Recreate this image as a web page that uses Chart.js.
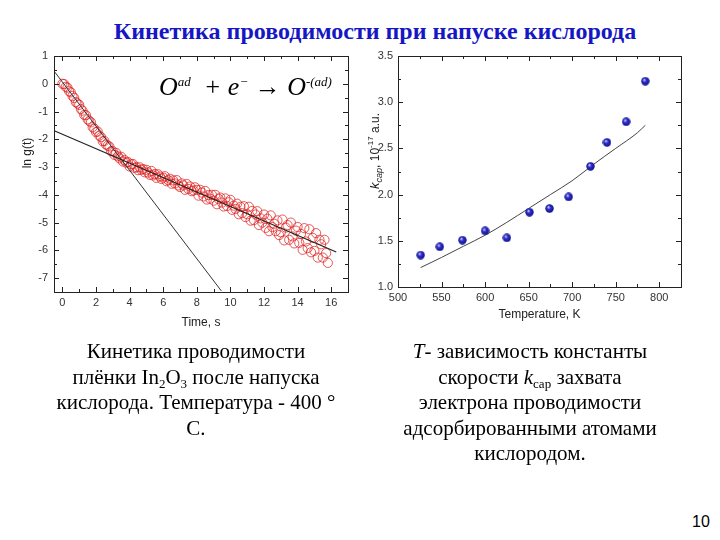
<!DOCTYPE html>
<html>
<head>
<meta charset="utf-8">
<script src="https://cdn.jsdelivr.net/npm/chart.js@4.4.1/dist/chart.umd.min.js"></script>
<style>
  body { margin: 0; background: #fff; }
  #page { position: relative; width: 720px; height: 540px; overflow: hidden; background: #fff; }
  #title { position: absolute; left: 0; top: 18px; width: 750px; text-align: center;
           font: bold 24px "Liberation Serif", "Times New Roman", serif; color: #1616c4; }
  .box { position: absolute; width: 360px; height: 300px; top: 40px; }
  #formula { position: absolute; left: 159px; top: 72px; font: italic 26px "Liberation Serif", serif; color: #000; white-space: nowrap; }
  #formula sup { font-size: 13px; vertical-align: 9px; }
  .cap { position: absolute; top: 339px; font: 21px/25.5px "Liberation Serif", "Times New Roman", serif; color: #000; text-align: center; }
  .cap sub { font-size: 13px; vertical-align: -4px; line-height: 0; }
  #pageno { position: absolute; left: 692px; top: 513px; font: 16px "Liberation Sans", Arial, sans-serif; }
</style>
</head>
<body>
<div id="page">
  <div id="title">Кинетика проводимости при напуске кислорода</div>
  <div class="box" style="left:0"><canvas id="kinChart" width="360" height="300"></canvas></div>
  <div class="box" style="left:360px"><canvas id="tempChart" width="360" height="300"></canvas></div>
  <div id="formula">O<sup>ad</sup>&nbsp; + e<sup>&minus;</sup> &rarr; O<sup>-(ad)</sup></div>
  <div class="cap" style="left:36px; width:320px">Кинетика проводимости<br>плёнки In<sub>2</sub>O<sub>3</sub> после напуска<br>кислорода. Температура - 400 °<br>С.</div>
  <div class="cap" style="left:370px; width:320px"><i>T</i>- зависимость константы<br>скорости <i>k</i><sub>cap</sub> захвата<br>электрона проводимости<br>адсорбированными атомами<br>кислородом.</div>
  <div id="pageno">10</div>
</div>
<script>
// --- данные: кинетика ln g(t), шаг 0.1 с ---
const timeStart = 0;
const timeStep = 0.1;
const lnG = [
  0.00, -0.01, -0.11, -0.14, -0.27, -0.31, -0.44, -0.51, -0.66, -0.71,
  -0.76, -0.91, -0.97, -1.12, -1.13, -1.28, -1.34, -1.39, -1.56, -1.62,
  -1.74, -1.72, -1.87, -1.92, -2.07, -2.06, -2.19, -2.23, -2.26, -2.43,
  -2.43, -2.56, -2.49, -2.61, -2.69, -2.63, -2.80, -2.75, -2.84, -2.82,
  -2.98, -2.90, -2.89, -3.03, -3.00, -3.11, -3.01, -3.10, -3.07, -3.19,
  -3.10, -3.20, -3.28, -3.14, -3.30, -3.25, -3.39, -3.26, -3.34, -3.43,
  -3.38, -3.33, -3.51, -3.47, -3.42, -3.60, -3.48, -3.59, -3.47, -3.66,
  -3.72, -3.59, -3.66, -3.82, -3.61, -3.79, -3.70, -3.87, -3.84, -3.73,
  -3.82, -4.03, -3.82, -3.92, -4.06, -3.86, -4.17, -4.01, -4.14, -4.00,
  -4.21, -4.00, -4.34, -4.15, -4.10, -4.28, -4.42, -4.13, -4.40, -4.27,
  -4.18, -4.54, -4.39, -4.51, -4.32, -4.70, -4.43, -4.66, -4.41, -4.80,
  -4.70, -4.43, -4.93, -4.58, -4.91, -4.71, -4.59, -5.09, -4.85, -5.00,
  -4.71, -5.19, -4.86, -5.31, -4.74, -5.16, -5.04, -5.31, -4.92, -5.45,
  -5.35, -4.89, -5.64, -5.18, -5.09, -5.62, -5.00, -5.50, -5.75, -5.29,
  -5.16, -5.73, -5.41, -5.98, -5.20, -5.68, -5.92, -5.24, -6.07, -5.55,
  -6.02, -5.38, -6.26, -5.62, -5.78, -6.26, -5.62, -6.10, -6.45
];
// две экспоненты (прямые в координатах ln g)
const fastLine = [{ x: -0.45, y: 0.42 }, { x: 9.46, y: -7.46 }];
const slowLine = [{ x: -0.45, y: -1.70 }, { x: 16.3, y: -6.06 }];

// --- данные: k_cap(T) ---
const temperatures = [526, 548, 574, 600, 625, 651, 674, 696, 721, 740, 762, 784];
const kcap = [1.345, 1.435, 1.507, 1.608, 1.532, 1.809, 1.849, 1.975, 2.306, 2.565, 2.788, 3.227];
const fitT = [526, 550, 575, 600, 625, 650, 675, 700, 725, 750, 775, 784];
const fitK = [1.21, 1.32, 1.44, 1.56, 1.70, 1.85, 2.00, 2.15, 2.33, 2.50, 2.67, 2.75];

const tickFont = { family: '"Liberation Sans", Arial, sans-serif', size: 11 };
const tickColor = '#333';

// рамка вокруг графика + внутренние засечки на всех сторонах + подпись оси Y
const frameTicks = {
  id: 'frameTicks',
  afterDraw(chart, args, opts) {
    const { ctx, chartArea: a, scales } = chart;
    ctx.save();
    ctx.strokeStyle = '#222';
    ctx.lineWidth = 1;
    ctx.strokeRect(Math.round(a.left) + 0.5, Math.round(a.top) + 0.5,
      Math.round(a.right - a.left), Math.round(a.bottom - a.top));
    const xs = scales.x, ys = scales.y;
    ctx.beginPath();
    for (let v = opts.xFrom; v <= xs.max + 1e-9; v += opts.xMinor) {
      const px = Math.round(xs.getPixelForValue(v)) + 0.5;
      if (px < a.left || px > a.right) continue;
      const major = Math.abs(v / opts.xMajor - Math.round(v / opts.xMajor)) < 1e-6;
      const len = major ? 5 : 3;
      ctx.moveTo(px, a.bottom); ctx.lineTo(px, a.bottom - len);
      ctx.moveTo(px, a.top); ctx.lineTo(px, a.top + len);
    }
    for (let v = opts.yFrom; v <= ys.max + 1e-9; v += opts.yMinor) {
      const py = Math.round(ys.getPixelForValue(v)) + 0.5;
      if (py < a.top - 0.5 || py > a.bottom + 0.5) continue;
      const major = Math.abs(v / opts.yMajor - Math.round(v / opts.yMajor)) < 1e-6;
      const len = major ? 5 : 3;
      ctx.moveTo(a.left, py); ctx.lineTo(a.left + len, py);
      ctx.moveTo(a.right, py); ctx.lineTo(a.right - len, py);
    }
    ctx.stroke();

    // подпись оси Y (повёрнутая, из кусочков)
    ctx.translate(opts.titleX, opts.titleY);
    ctx.rotate(-Math.PI / 2);
    ctx.fillStyle = '#222';
    ctx.textBaseline = 'alphabetic';
    let total = 0;
    opts.title.forEach(p => { ctx.font = p.font; total += ctx.measureText(p.text).width; });
    let x = -total / 2;
    opts.title.forEach(p => {
      ctx.font = p.font;
      ctx.fillText(p.text, x, 5 + (p.dy || 0));
      x += ctx.measureText(p.text).width;
    });
    ctx.restore();
  }
};

function axis(min, max, step, fmt) {
  return {
    type: 'linear', min, max,
    grid: { display: false, drawTicks: false },
    border: { display: false },
    ticks: { stepSize: step, color: tickColor, font: tickFont, padding: 5, callback: fmt }
  };
}

// --- левый график ---
const kinPoints = lnG.map((y, i) => ({ x: timeStart + i * timeStep, y }));

const xKin = axis(-0.5, 17, 2, v => v);
xKin.afterBuildTicks = s => { s.ticks = [0, 2, 4, 6, 8, 10, 12, 14, 16].map(v => ({ value: v })); };
xKin.afterFit = s => { s.height = 42; };
xKin.ticks.padding = 4;
xKin.title = { display: true, text: 'Time, s', color: '#222', font: { family: tickFont.family, size: 12 }, padding: { top: 2 } };
const yKin = axis(-7.5, 1, 1, v => v);
yKin.afterBuildTicks = s => { s.ticks = [-7, -6, -5, -4, -3, -2, -1, 0, 1].map(v => ({ value: v })); };
yKin.afterFit = s => { s.width = 36; };
yKin.ticks.padding = 6;

new Chart(document.getElementById('kinChart'), {
  type: 'scatter',
  data: {
    datasets: [
      { data: kinPoints, pointRadius: 4.6, pointBorderWidth: 1, borderColor: 'rgba(222,28,28,0.72)',
        backgroundColor: 'rgba(255,255,255,0)', order: 2 },
      { type: 'line', data: fastLine, borderColor: '#333', borderWidth: 1, pointRadius: 0, order: 1 },
      { type: 'line', data: slowLine, borderColor: '#222', borderWidth: 1.2, pointRadius: 0, order: 0 }
    ]
  },
  options: {
    responsive: false, animation: false,
    layout: { padding: { left: 18, top: 16, right: 12, bottom: 6 } },
    plugins: {
      legend: { display: false }, tooltip: { enabled: false },
      frameTicks: { xFrom: 0, xMinor: 1, xMajor: 2, yFrom: -7.5, yMinor: 0.5, yMajor: 1,
        titleX: 26, titleY: 113,
        title: [{ text: 'ln g(t)', font: '12px "Liberation Sans", Arial, sans-serif' }] }
    },
    scales: { x: xKin, y: yKin }
  },
  plugins: [frameTicks]
});

// --- правый график ---
const sphere = document.createElement('canvas');
sphere.width = 9; sphere.height = 9;
const sc = sphere.getContext('2d');
const grad = sc.createRadialGradient(3.3, 3, 0.3, 4.5, 4.5, 4.5);
grad.addColorStop(0, '#d0d0ff');
grad.addColorStop(0.35, '#3232d2');
grad.addColorStop(1, '#0a0a80');
sc.fillStyle = grad;
sc.beginPath(); sc.arc(4.5, 4.5, 4.2, 0, Math.PI * 2); sc.fill();

const xTemp = axis(500, 825, 50, v => v);
xTemp.afterBuildTicks = s => { s.ticks = [500, 550, 600, 650, 700, 750, 800].map(v => ({ value: v })); };
xTemp.afterFit = s => { s.height = 39; };
xTemp.ticks.padding = 4;
xTemp.title = { display: true, text: 'Temperature, K', color: '#222', font: { family: tickFont.family, size: 12 }, padding: { top: 2 } };
const yTemp = axis(1.0, 3.5, 0.5, v => v.toFixed(1));
yTemp.afterFit = s => { s.width = 34; };

new Chart(document.getElementById('tempChart'), {
  type: 'scatter',
  data: {
    datasets: [
      { data: temperatures.map((t, i) => ({ x: t, y: kcap[i] })), pointStyle: sphere, pointRadius: 4.5, order: 0 },
      { type: 'line', data: fitT.map((t, i) => ({ x: t, y: fitK[i] })), borderColor: '#444', borderWidth: 1,
        pointRadius: 0, tension: 0.4, cubicInterpolationMode: 'monotone', order: 1 }
    ]
  },
  options: {
    responsive: false, animation: false,
    layout: { padding: { left: 4, top: 16, right: 39, bottom: 14 } },
    plugins: {
      legend: { display: false }, tooltip: { enabled: false },
      frameTicks: { xFrom: 500, xMinor: 25, xMajor: 50, yFrom: 1.0, yMinor: 0.25, yMajor: 0.5,
        titleX: 14, titleY: 111,
        title: [
          { text: 'k', font: 'italic 13px "Liberation Sans", Arial, sans-serif' },
          { text: 'cap', font: 'italic 9px "Liberation Sans", Arial, sans-serif', dy: 3 },
          { text: ', 10', font: '12px "Liberation Sans", Arial, sans-serif' },
          { text: '-17', font: '8px "Liberation Sans", Arial, sans-serif', dy: -6 },
          { text: ' a.u.', font: '12px "Liberation Sans", Arial, sans-serif' }
        ] }
    },
    scales: { x: xTemp, y: yTemp }
  },
  plugins: [frameTicks]
});
</script>
</body>
</html>
